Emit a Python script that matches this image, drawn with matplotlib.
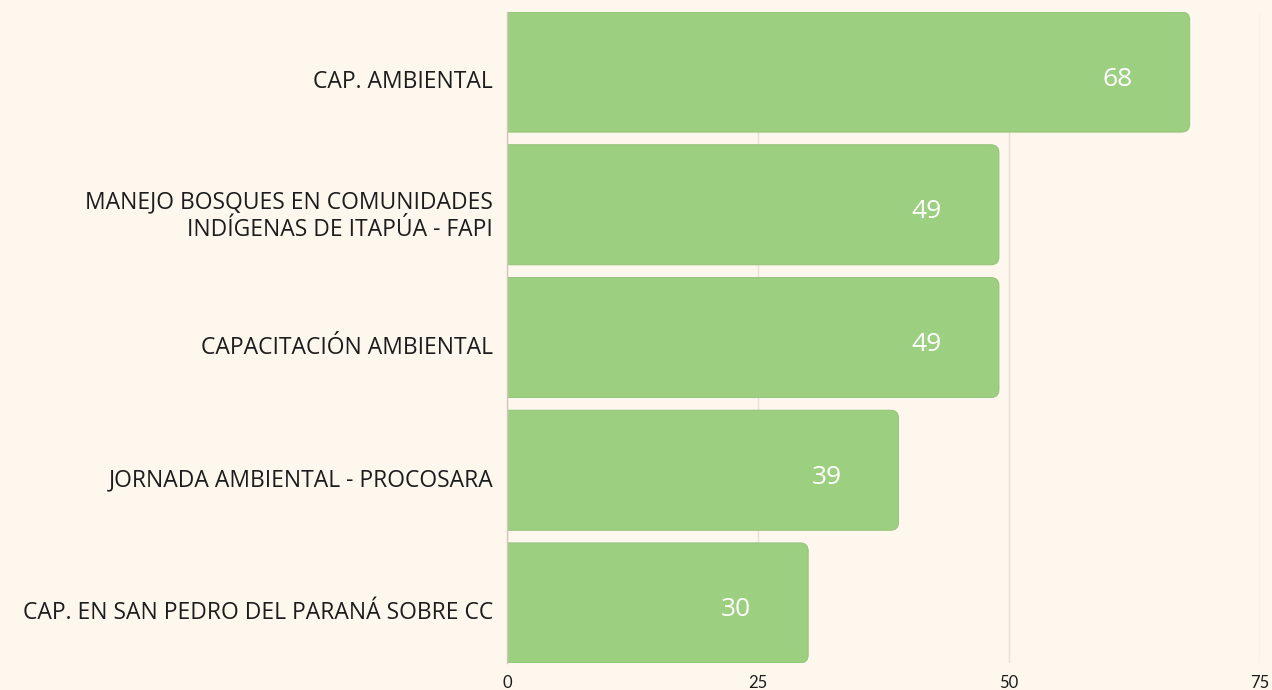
import matplotlib
matplotlib.use("Agg")
import matplotlib.pyplot as plt
import matplotlib.transforms as mtransforms
from matplotlib.patches import FancyBboxPatch

categories = [
    "CAP. AMBIENTAL",
    "MANEJO BOSQUES EN COMUNIDADES\nINDÍGENAS DE ITAPÚA - FAPI",
    "CAPACITACIÓN AMBIENTAL",
    "JORNADA AMBIENTAL - PROCOSARA",
    "CAP. EN SAN PEDRO DEL PARANÁ SOBRE CC",
]
values = [68, 49, 49, 39, 30]
xticks = [0, 25, 50, 75]

BG = "#fef7ee"
BAR = "#9ccf80"
GRID = "#e9e0d5"
TXT = "#1c1c1c"

plt.rcParams['font.family'] = ['Open Sans', 'DejaVu Sans']

W, H = 1272, 690
DPI = 100
fig = plt.figure(figsize=(W / DPI, H / DPI), dpi=DPI, facecolor=BG)
ax = fig.add_axes([507 / W, 27 / H, (1260 - 507) / W, (663 - 12) / H])
ax.set_facecolor(BG)

n = len(categories)
ypos = list(range(n))
height = 0.905
ax.set_xlim(0, 75)
ax.set_ylim(n - 1 + height / 2, -height / 2)

bars = ax.barh(ypos, values, height=height, color=BAR, alpha=0)

# rounded right corners derived from the bar geometry
xu_per_px = 75 / (1260 - 507)
yu_per_px = (n - 1 + height) / (663 - 12)
aspect = yu_per_px / xu_per_px
r = 8 * xu_per_px
for b in bars:
    x, y = b.get_x(), b.get_y()
    w, h = b.get_width(), b.get_height()
    p = FancyBboxPatch((x - 2, y), w + 2, h,
                       boxstyle=f"round,pad=0,rounding_size={r}",
                       mutation_aspect=aspect,
                       facecolor=BAR, edgecolor="#8fbf75", linewidth=0.6,
                       zorder=3)
    ax.add_patch(p)

label_dy_px = -7  # labels sit a little below bar centre
for yi, v in zip(ypos, values):
    ax.annotate(str(v), xy=(v, yi), xytext=(-72, label_dy_px),
                textcoords="offset pixels", ha="center", va="center",
                color="white", fontsize=19, zorder=4)

ax.set_xticks(xticks)
ax.set_xticklabels([str(t) for t in xticks], fontsize=12, color=TXT,
                   family=['Lato', 'DejaVu Sans'])
ax.xaxis.grid(True, color=GRID, linewidth=1, zorder=0)
ax.set_axisbelow(True)
ax.tick_params(axis="x", length=0, pad=9)
ax.set_yticks(ypos)
ax.set_yticklabels(categories, fontsize=16.5, color=TXT, linespacing=1.2)
ax.tick_params(axis="y", length=0, pad=10)
shift = mtransforms.ScaledTranslation(0, label_dy_px / DPI, fig.dpi_scale_trans)
for lab in ax.get_yticklabels():
    lab.set_transform(lab.get_transform() + shift)

for s in ["top", "right", "bottom"]:
    ax.spines[s].set_visible(False)
ax.spines["left"].set_color("#cfc9bd")
ax.spines["left"].set_linewidth(1)
ax.spines["left"].set_zorder(5)

fig.savefig("out.png", dpi=DPI, facecolor=BG)
